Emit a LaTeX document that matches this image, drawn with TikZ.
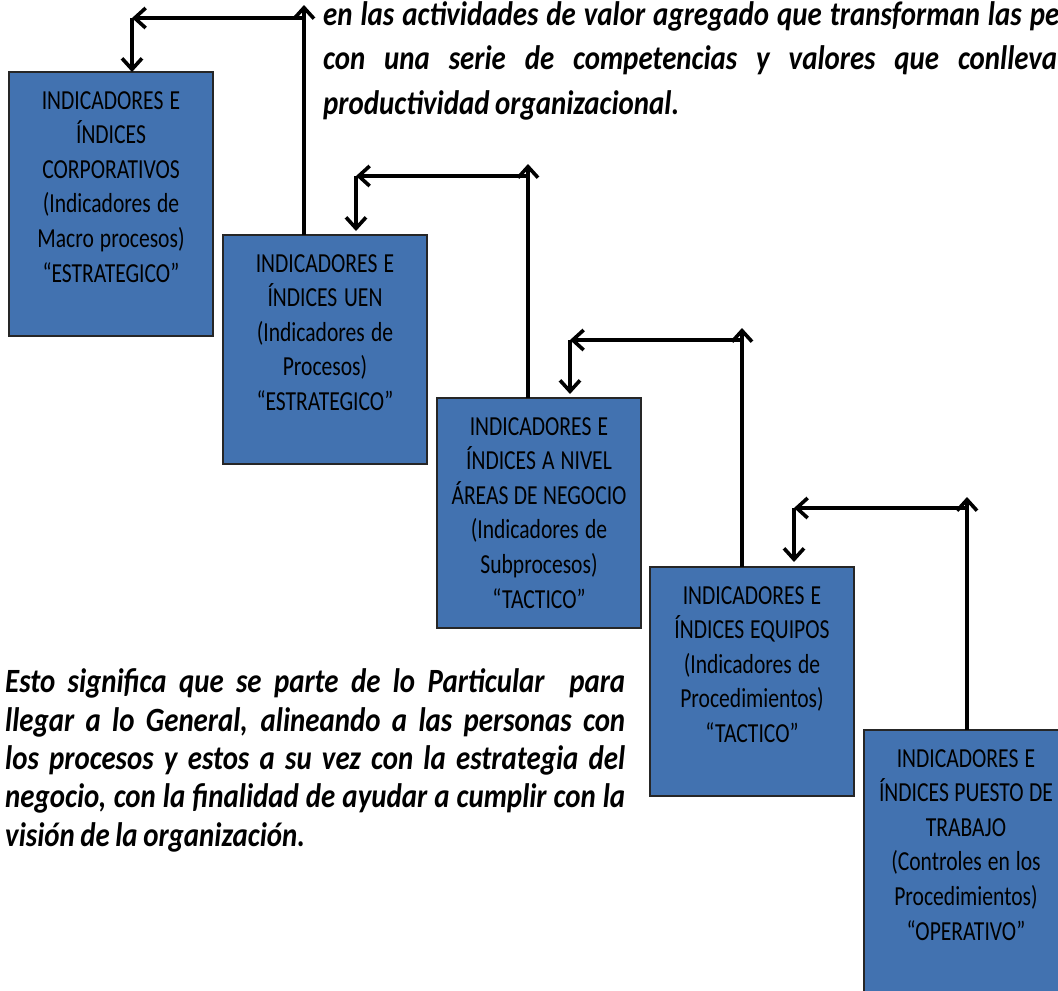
\documentclass[tikz,border=0pt]{standalone}
\usepackage{fontspec}
\setmainfont{Carlito}[FakeStretch=0.785]
\newfontfamily\parafont{Carlito}[FakeStretch=0.85,WordSpace=0.85]
\usepackage{tikz}
\usetikzlibrary{arrows.meta}
\definecolor{boxblue}{RGB}{66,114,176}

\begin{document}
\begin{tikzpicture}[x=1pt,y=-1pt,
    box/.style={draw=black!85,line width=1.3pt,fill=boxblue,anchor=north west,minimum width=204pt,inner sep=0pt,outer sep=0pt},
    boxtxt/.style={anchor=north,inner sep=0pt,text width=200pt,align=center,font=\fontsize{27.5pt}{34.6pt}\selectfont,execute at begin node={\spaceskip=0pt\relax}},
    para/.style={anchor=base west,inner sep=0pt,align=left,font=\parafont\fontsize{34pt}{38.3pt}\selectfont\bfseries\itshape},
    conn/.style={line width=3.6pt,-{Straight Barb[length=11pt,width=20pt]}}]
    \useasboundingbox (0,0) rectangle (1058,991);
    \clip (0,0) rectangle (1058,991);
    \node[box,minimum height=264pt] (b1) at (9,72){};
    \node[box,minimum height=229pt] (b2) at (223,235){};
    \node[box,minimum height=230pt] (b3) at (437,398){};
    \node[box,minimum height=229pt] (b4) at (650,567){};
    \node[box,minimum height=290pt] (b5) at (864,730){};
    \node[boxtxt] (l1) at ([yshift=-19pt]b1.north){INDICADORES E\\ ÍNDICES\\ CORPORATIVOS\\ (Indicadores de\\ Macro procesos)\\ “ESTRATEGICO”};
    \node[boxtxt] (l2) at ([yshift=-19pt]b2.north){INDICADORES E\\ ÍNDICES UEN\\ (Indicadores de\\ Procesos)\\ “ESTRATEGICO”};
    \node[boxtxt] (l3) at ([yshift=-19pt]b3.north){INDICADORES E\\ ÍNDICES A NIVEL\\ ÁREAS DE NEGOCIO\\ (Indicadores de\\ Subprocesos)\\ “TACTICO”};
    \node[boxtxt] (l4) at ([yshift=-19pt]b4.north){INDICADORES E\\ ÍNDICES EQUIPOS\\ (Indicadores de\\ Procedimientos)\\ “TACTICO”};
    \node[boxtxt] (l5) at ([yshift=-19pt]b5.north){INDICADORES E\\ ÍNDICES PUESTO DE\\ TRABAJO\\ (Controles en los\\ Procedimientos)\\ “OPERATIVO”};
    \coordinate (t1) at (304,5);
    \coordinate (c1) at (132,18);
    \coordinate (t2) at (528,164);
    \coordinate (c2) at (356,176);
    \coordinate (t3) at (742,328);
    \coordinate (c3) at (570,340);
    \coordinate (t4) at (967,497);
    \coordinate (c4) at (794,508);
    \draw[conn] (b2.north -| t1) -- (t1);
    \draw[conn] (t1 |- c1) -- (c1);
    \draw[conn] (c1) -- (b1.north -| c1);
    \draw[conn] (b3.north -| t2) -- (t2);
    \draw[conn] (t2 |- c2) -- (c2);
    \draw[conn] (c2) -- ([yshift=4pt]b2.north -| c2);
    \draw[conn] (b4.north -| t3) -- (t3);
    \draw[conn] (t3 |- c3) -- (c3);
    \draw[conn] (c3) -- ([yshift=4pt]b3.north -| c3);
    \draw[conn] (b5.north -| t4) -- (t4);
    \draw[conn] (t4 |- c4) -- (c4);
    \draw[conn] (c4) -- ([yshift=5pt]b4.north -| c4);
    \node[para,font=\parafont\fontsize{34pt}{44.5pt}\selectfont\bfseries\itshape] (top) at (323,114){\makebox[736pt][s]{en las actividades de valor agregado que transforman las pe}\\ \makebox[734pt][s]{con una serie de competencias y valores que conlleva}\\ productividad organizacional.};
    \node[para] (bottom) at (5,846){\makebox[620pt][s]{Esto significa que se parte de lo Particular \ para}\\ \makebox[620pt][s]{llegar a lo General, alineando a las personas con}\\ \makebox[620pt][s]{los procesos y estos a su vez con la estrategia del}\\ \makebox[620pt][s]{negocio, con la finalidad de ayudar a cumplir con la}\\ visión de la organización.};
\end{tikzpicture}
\end{document}
